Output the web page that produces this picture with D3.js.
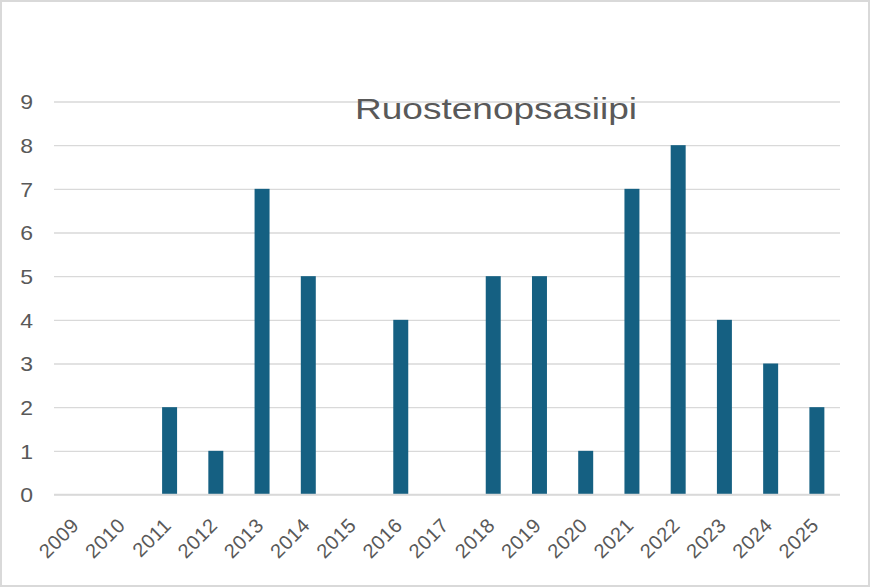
<!DOCTYPE html>
<html>
<head>
<meta charset="utf-8">
<script src="https://cdn.jsdelivr.net/npm/d3@7"></script>
<style>
  html, body { margin: 0; padding: 0; background: #fff; }
  svg { display: block; }
</style>
</head>
<body>
<svg id="chart" width="871" height="588"></svg>
<script>
const categories = ["2009","2010","2011","2012","2013","2014","2015","2016","2017","2018","2019","2020","2021","2022","2023","2024","2025"];
const values = [0,0,2,1,7,5,0,4,0,5,5,1,7,8,4,3,2];
const yTicks = [0,1,2,3,4,5,6,7,8,9];
const title = "Ruostenopsasiipi";

(function () {
const svg = d3.select("#chart");
const W = 871, H = 588;
const font = "'Liberation Sans', Arial, sans-serif";
const textColor = "#595959";

svg.append("rect").attr("x", 1).attr("y", 1).attr("width", W - 3).attr("height", H - 3)
  .attr("fill", "#fff").attr("stroke", "#d9d9d9").attr("stroke-width", 2);

const pLeft = 54, pRight = 840, pTop = 101.5, pBottom = 494.5;

const x = d3.scaleBand().domain(categories).range([pLeft, pRight])
  .paddingInner(0.676).paddingOuter(0.338);
const y = d3.scaleLinear().domain([0, 9]).range([pBottom, pTop]);

// gridlines
const yAxis = d3.axisLeft(y).tickValues(yTicks).tickSize(-(pRight - pLeft)).tickPadding(21).tickFormat(d3.format("d"));
const gy = svg.append("g").attr("transform", `translate(${pLeft},0)`).call(yAxis);
gy.select(".domain").remove();
gy.selectAll(".tick line").attr("stroke", "#d9d9d9").attr("stroke-width", 1.3);
gy.selectAll(".tick text").attr("fill", textColor).attr("font-family", font).attr("font-size", 20)
  .attr("dy", "0.36em").attr("transform", "scale(1.15,1)").attr("x", -21 / 1.15);

// title
svg.append("text").attr("x", 496).attr("y", 118.5).attr("text-anchor", "middle")
  .attr("font-family", font).attr("font-size", 30).attr("fill", textColor)
  .attr("textLength", 282).attr("lengthAdjust", "spacingAndGlyphs")
  .text(title);

// bars
svg.append("g").selectAll("rect").data(values).join("rect")
  .attr("x", (d, i) => x(categories[i]))
  .attr("width", x.bandwidth())
  .attr("y", d => y(d))
  .attr("height", d => y(0) - y(d))
  .attr("fill", "#156082");

// x axis
const xAxis = d3.axisBottom(x).tickSize(0).tickPadding(0);
const gx = svg.append("g").attr("transform", `translate(0,${pBottom})`).call(xAxis);
gx.select(".domain").attr("stroke", "#d9d9d9").attr("stroke-width", 1.3)
  .attr("d", `M${pLeft},0H${pRight}`);
gx.selectAll(".tick text")
  .attr("fill", textColor).attr("font-family", font).attr("font-size", 20)
  .attr("text-anchor", "end").attr("dy", null).attr("y", 0)
  .attr("letter-spacing", 0.5)
  .attr("transform", "translate(3,32) rotate(-45)");
})();
</script>
</body>
</html>
